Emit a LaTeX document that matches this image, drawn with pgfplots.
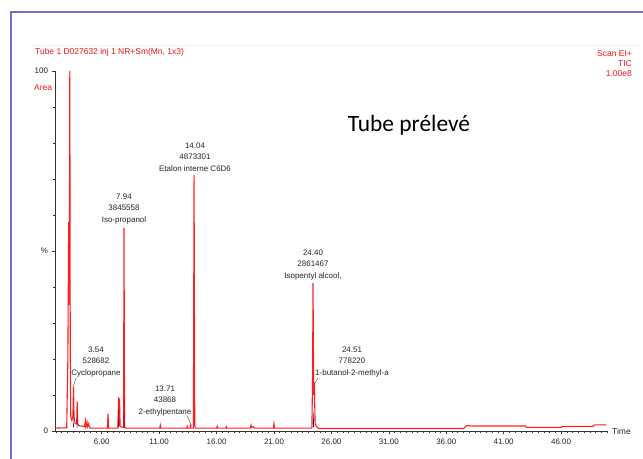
\documentclass[border=0pt]{standalone}
\usepackage{pgfplots}
\pgfplotsset{compat=1.18}
\usepackage{fontspec}
\setmainfont{Liberation Sans}
\newfontfamily\carlito{Carlito}
\definecolor{trace}{RGB}{255,30,30}
\definecolor{lbl}{RGB}{240,20,20}
\definecolor{framec}{RGB}{110,110,205}
\definecolor{dkfill}{RGB}{40,20,80}
\definecolor{dkred}{RGB}{150,0,30}
\begin{document}
\begin{tikzpicture}[x=1bp,y=1bp]
\path[use as bounding box] (0,0) rectangle (643,459);
\fill[white] (0,0) rectangle (643,459);
\begin{axis}[at={(55bp,28bp)}, anchor=south west, scale only axis,
  width=552bp, height=360bp,
  xmin=1.93, xmax=50, ymin=0, ymax=100,
  axis lines=left, axis line style={-, black!80, line width=0.6bp},
  tick align=outside,
  xtick={6,11,...,46},
  xticklabel={\pgfmathprintnumber[fixed,fixed zerofill,precision=2]{\tick}},
  minor xtick={2,2.5,...,50},
  ytick={0,50,100}, yticklabels={0,\%,100},
  minor ytick={10,20,...,90},
  major tick length=3.5bp, minor tick length=2bp,
  tick style={black!80, line width=0.5bp},
  ticklabel style={font=\fontsize{8}{9}\selectfont, text=black!85},
  /pgf/number format/assume math mode=true,
  xticklabel shift=1bp,
  clip=false]
\addplot[trace, line width=1.1bp] coordinates {
(1.95,0.8)(2.95,0.9)(3.05,20)(3.12,58)(3.17,35)(3.22,100)(3.26,20)(3.30,4)
(3.40,3)(3.49,4)(3.54,12.3)(3.59,4)(3.65,2.5)(3.70,2)(3.82,2)(3.86,8.2)
(3.90,2)(4.0,1.5)(4.5,1.2)(4.58,2.8)(4.62,1.2)(4.72,2.4)(4.76,1.2)(4.86,2)
(4.92,1.2)(5.0,0.8)(6.50,0.8)(6.55,4.8)(6.60,0.8)(7.40,0.8)(7.47,9.4)(7.52,1.5)
(7.55,9)(7.60,1.2)(7.90,1)(7.94,56.4)(7.99,1.5)(8.05,0.8)(11.05,0.8)(11.10,1.6)
(11.15,0.8)(13.40,0.8)(13.45,1.3)(13.50,0.8)(13.68,0.8)(13.72,1.4)(13.76,0.8)
(13.98,0.8)(14.04,71.1)(14.10,1.5)(14.15,0.8)(16.0,0.8)(16.05,1.3)(16.1,0.8)
(16.8,0.8)(16.85,1.2)(16.9,0.8)(18.95,0.8)(19.0,1.6)(19.05,1.0)(19.2,1.2)
(19.3,0.8)(20.95,0.8)(21.0,2.0)(21.05,0.8)(24.30,0.8)(24.36,15)(24.40,41.1)
(24.46,10)(24.51,13.5)(24.58,2)(24.70,1.2)(24.9,0.7)(37.5,0.7)(37.8,1.5)
(38.2,1.4)(42.9,1.4)(43.0,1.0)(46.0,1.0)(46.1,1.3)(48.8,1.3)(48.9,1.7)(49.95,1.7)
};
\addplot[fill=dkred, draw=none] coordinates {(3.51,1)(3.54,5)(3.57,1)};
\addplot[fill=dkfill, draw=none] coordinates {(3.83,1)(3.86,6)(3.89,1)};
\addplot[fill=dkred, draw=none] coordinates {(7.43,1)(7.47,8)(7.51,1)};
\addplot[fill=dkfill, draw=none] coordinates {(7.90,1)(7.94,9)(7.98,1)};
\addplot[fill=dkfill, draw=none] coordinates {(24.38,1)(24.43,6)(24.49,1)};
\end{axis}
% frame and header
\draw[framec, line width=2.5bp] (11,0) -- (11,447) -- (643,447);
\draw[black!6, line width=0.5bp] (30,414) -- (640,414);
\node[anchor=west, text=lbl, font=\fontsize{8.5}{10}\selectfont, inner sep=0] at (35,407) {Tube 1 D027632 inj 1 NR+Sm(Mn, 1x3)};
\node[anchor=west, text=lbl, font=\fontsize{8.5}{10}\selectfont, inner sep=0] at (34,371) {Area};
\node[anchor=east, align=right, text=lbl, font=\fontsize{8.5}{10.2}\selectfont, inner sep=0] at (632,395.7) {Scan EI+\\TIC\\1.00e8};
\node[anchor=west, text=black!85, font=\fontsize{8.5}{10}\selectfont, inner sep=0] at (612,28) {Time};
\node[font=\carlito\fontsize{23.5}{28}\selectfont] at (409,334) {Tube prélevé};
% peak annotations
\begin{scope}[every node/.style={align=center, text=black!85, font=\fontsize{8}{11.5}\selectfont, inner sep=0}]
\node at (195,302) {14.04\\4873301\\Etalon interne C6D6};
\node at (124,250) {7.94\\3845558\\Iso-propanol};
\node at (313,194) {24.40\\2861467\\Isopentyl alcool,};
\node at (352,97) {24.51\\778220\\1-butanol-2-methyl-a};
\node at (96,97) {3.54\\528682\\Cyclopropane};
\node at (165,58) {13.71\\43868\\2-ethylpentane};
\end{scope}
\draw[black!70, line width=0.4bp] (76,81) -- (73.3,73);
\draw[black!70, line width=0.4bp] (318,81) -- (315,76);
\draw[black!70, line width=0.4bp] (186.7,44) -- (191.7,33);
\end{tikzpicture}
\end{document}
